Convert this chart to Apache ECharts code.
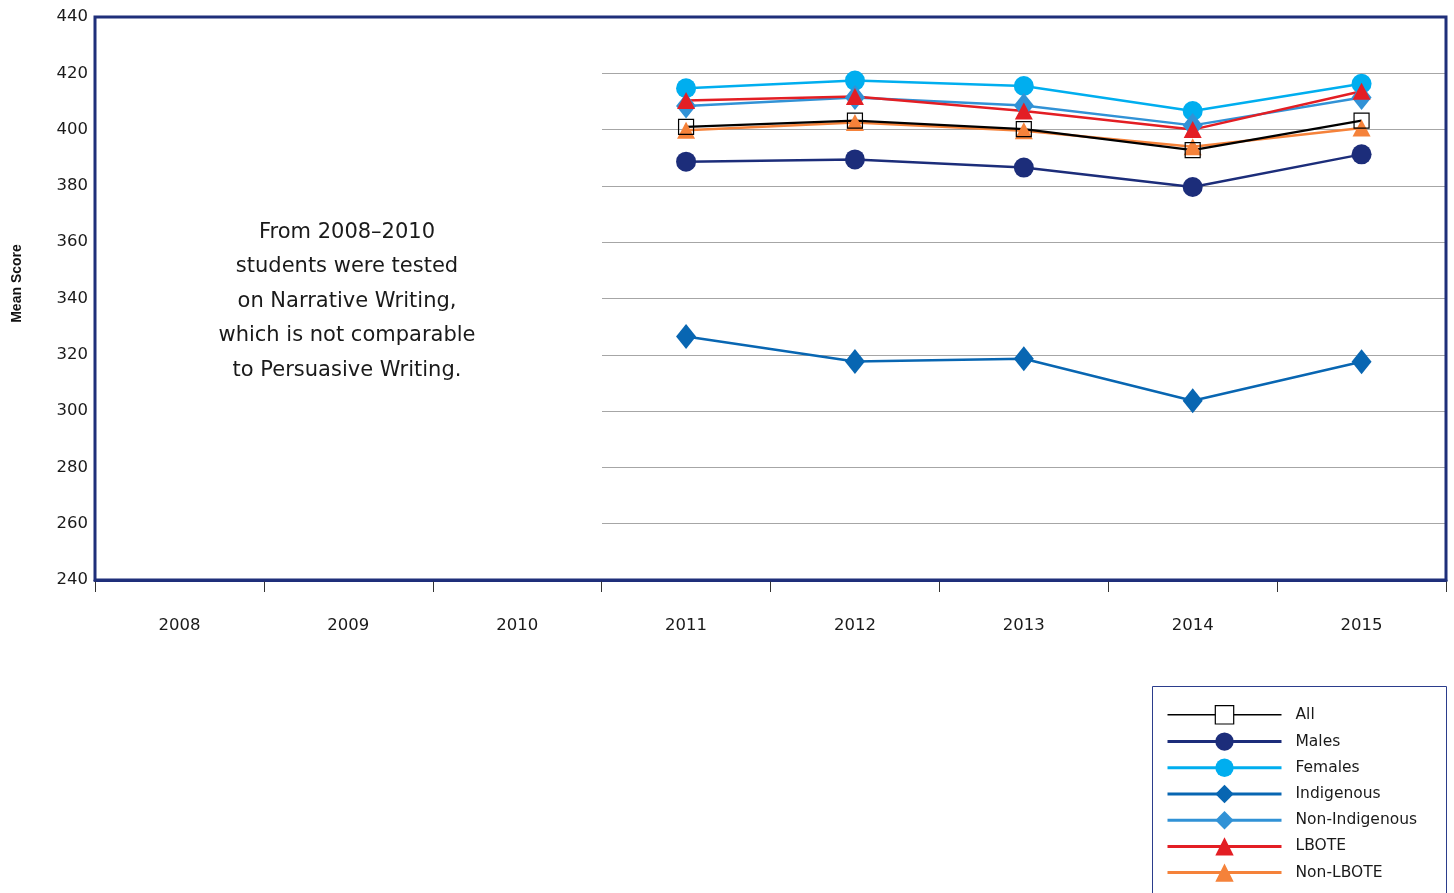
<!DOCTYPE html>
<html>
<head>
<meta charset="utf-8">
<script src="https://cdn.jsdelivr.net/npm/echarts@6/dist/echarts.min.js"></script>
<style>html,body{margin:0;padding:0;background:#fff;}#c{width:1454px;height:893px;}</style>
</head>
<body>
<div id="c"></div>
<script>
const years = ['2008','2009','2010','2011','2012','2013','2014','2015'];
const yTicks = [240,260,280,300,320,340,360,380,400,420,440];
// values for 2011-2015 (2008-2010 not comparable, left empty)
const allStudents   = [401.0, 403.2, 400.2, 392.7, 403.2];
const males         = [388.6, 389.4, 386.5, 379.6, 391.2];
const females       = [414.7, 417.4, 415.5, 406.6, 416.3];
const indigenous    = [326.5, 317.6, 318.6, 303.7, 317.5];
const nonIndigenous = [408.4, 411.4, 408.6, 401.5, 411.4];
const lbote         = [410.3, 411.8, 406.6, 400.0, 413.6];
const nonLbote      = [399.8, 402.5, 399.6, 393.9, 400.6];
const note = 'From 2008\u20132010\nstudents were tested\non Narrative Writing,\nwhich is not comparable\nto Persuasive Writing.';

const pad = arr => [null, null, null].concat(arr);
const FONT = '"DejaVu Sans", sans-serif';
const FONT_B = '"Liberation Sans", Arial, sans-serif';

function mk(name, data, color, symbol, size, lw, extra) {
  return Object.assign({
    name: name, type: 'line', xAxisIndex: 0, yAxisIndex: 0,
    data: pad(data), symbol: symbol, symbolSize: size,
    showAllSymbol: true, connectNulls: false,
    lineStyle: {color: color, width: lw},
    itemStyle: {color: color},
    emphasis: {disabled: true}
  }, extra || {});
}

const chart = echarts.init(document.getElementById('c'), null, {renderer: 'canvas'});
chart.setOption({
  animation: false,
  backgroundColor: '#fff',
  textStyle: {fontFamily: FONT},
  title: {
    text: note, left: 347, top: 215, textAlign: 'center', padding: 0,
    textStyle: {fontFamily: FONT, fontSize: 21, fontWeight: 'normal', color: '#1a1a1a', lineHeight: 34.5}
  },
  graphic: [{
    type: 'rect', left: 1152, top: 686, z: 0, silent: true,
    shape: {width: 294, height: 230},
    style: {fill: '#fff', stroke: '#2b3d8c', lineWidth: 1}
  }],
  grid: [
    {left: 95, right: 8, top: 17, bottom: 313, show: true, borderColor: '#1f2f7a', borderWidth: 3, backgroundColor: 'transparent', z: 3, outerBoundsMode: 'none', containLabel: false},
    {left: 602, right: 8, top: 17, bottom: 313, show: false, outerBoundsMode: 'none', containLabel: false}
  ],
  xAxis: [
    {type: 'category', gridIndex: 0, data: years, boundaryGap: true,
     axisLine: {show: true, lineStyle: {color: '#1f2f7a', width: 3}},
     axisTick: {show: true, length: 12, lineStyle: {color: '#333', width: 1}},
     axisLabel: {margin: 37, fontSize: 16.5, color: '#1a1a1a', fontFamily: FONT},
     splitLine: {show: false}},
    {type: 'category', gridIndex: 1, data: years.slice(3), show: false,
     splitLine: {show: false}}
  ],
  yAxis: [
    {type: 'value', gridIndex: 0, min: yTicks[0], max: yTicks[yTicks.length-1], interval: 20,
     name: 'Mean Score', nameLocation: 'middle', nameRotate: 90, nameGap: 71,
     nameTextStyle: {fontFamily: FONT_B, fontSize: 14, fontWeight: 'bold', color: '#111', padding: [0,0,0,30]},
     axisLine: {show: false}, axisTick: {show: false},
     axisLabel: {margin: 7, fontSize: 16.5, color: '#1a1a1a', fontFamily: FONT},
     splitLine: {show: false}},
    {type: 'value', gridIndex: 1, min: yTicks[0], max: yTicks[yTicks.length-1], interval: 20,
     axisLine: {show: false}, axisTick: {show: false}, axisLabel: {show: false},
     splitLine: {show: true, showMinLine: false, showMaxLine: false, lineStyle: {color: '#a6a6a6', width: 1}}}
  ],
  legend: {
    orient: 'vertical', left: 1152, top: 686,
    padding: [19, 0, 0, 14],
    itemWidth: 114, itemHeight: 23, itemGap: 7.8,
    lineStyle: {width: 3},
    textStyle: {fontFamily: FONT, fontSize: 15.5, color: '#1a1a1a', padding: [0,0,0,9]},
    data: [
      {name: 'All', itemStyle: {color: '#fff', borderColor: '#000', borderWidth: 1.2}, lineStyle: {width: 1.5}},
      'Males', 'Females', 'Indigenous', 'Non-Indigenous', 'LBOTE', 'Non-LBOTE'
    ]
  },
  series: [
    mk('Males', males, '#1c2d7a', 'circle', 20, 2.5),
    mk('Females', females, '#00aeef', 'circle', 20, 2.5),
    mk('Indigenous', indigenous, '#0866b2', 'diamond', [20, 25], 2.5),
    mk('Non-Indigenous', nonIndigenous, '#3192d6', 'diamond', [20, 25], 2.5),
    mk('LBOTE', lbote, '#e31e24', 'triangle', [18, 17], 2.5),
    mk('Non-LBOTE', nonLbote, '#f5823a', 'triangle', [18, 17], 2.5),
    mk('All', allStudents, '#000', 'rect', 15, 2.2,
       {itemStyle: {color: 'rgba(255,255,255,0)', borderColor: '#000', borderWidth: 1.2}})
  ]
});
</script>
</body>
</html>
